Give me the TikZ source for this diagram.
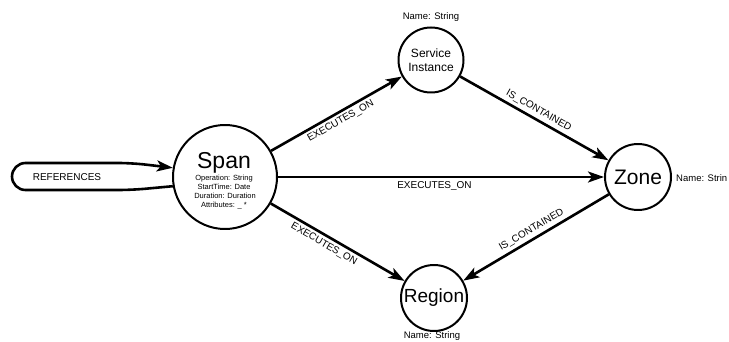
\documentclass[tikz,border=0pt]{standalone}
\usepackage{fontspec}
\setmainfont{Liberation Sans}
\usetikzlibrary{arrows.meta}
\begin{document}
\begin{tikzpicture}[x=1pt, y=-1pt, line join=round,
    entity/.style={circle, draw, line width=2pt, inner sep=0pt, align=center},
    rel/.style={line width=2.6pt, -{Stealth[length=16pt, width=11pt, inset=4pt]}},
    rellabel/.style={font=\fontsize{10}{12}\selectfont, sloped, inner sep=3pt},
    attr/.style={font=\fontsize{9.5}{11}\selectfont, inner sep=1pt}]
  \useasboundingbox (0,0) rectangle (729,342);

  % Các nút thực thể
  \node[entity, minimum size=104pt] (span) at (225,177) {};
  \node[font=\fontsize{23}{23}\selectfont, inner sep=0pt] (span title) at (224,162.5) {Span};
  \node[align=center, font=\fontsize{7.5}{9}\selectfont, inner sep=0pt] (span attrs) at (224,192)
    {Operation: String\\StartTime: Date\\ \ Duration: Duration\\Attributes: \_ *};
  \node[entity, minimum size=65pt, font=\fontsize{12}{14}\selectfont] (service) at (431,60) {Service\\Instance};
  \node[entity, minimum size=66pt, font=\fontsize{21}{21}\selectfont] (zone) at (638,177) {Zone};
  \node[entity, minimum size=66pt, font=\fontsize{19}{19}\selectfont] (region) at (434,298) {Region};

  % Thuộc tính ghi bên ngoài
  \node[attr] (service name) at (431,17) {Name: String};
  \node[attr, anchor=west] (zone name) at (675,178) {Name: Strin};
  \node[attr] (region name) at (432,336) {Name: String};

  % Các quan hệ giữa các nút
  \foreach \src/\dst/\txt/\side/\p [count=\i] in {
      span/service/EXECUTES\_ON/below/0.5,
      service/zone/IS\_CONTAINED/above/0.5,
      span/zone/EXECUTES\_ON/below/0.48,
      span/region/EXECUTES\_ON/below/0.43,
      zone/region/IS\_CONTAINED/above/0.5} {
    \draw[rel] (\src) -- node[rellabel, \side, pos=\p] (rel label \i) {\txt} (\dst);
  }

  % Vòng tự tham chiếu của Span
  \draw[rel, rounded corners=13.5pt] (span.190) -- (132,190) -- (12,190) -- (12,163) -- (132,163) -- (span.170);
  \node[font=\fontsize{10}{12}\selectfont] (refs label) at (67,177) {REFERENCES};
\end{tikzpicture}
\end{document}
